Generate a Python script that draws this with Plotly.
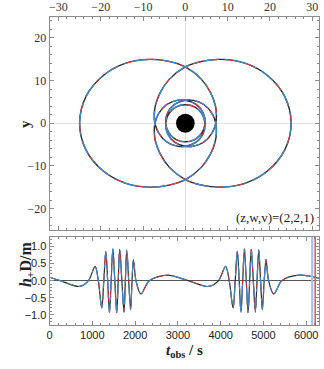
import math

import plotly.graph_objects as go


# orbit: radius vs angle swept from apoapsis, apoapsis -> periapsis
PSI_DEG = [0, 15, 30, 45, 61, 75, 90, 110, 130, 150, 165, 180, 200, 225, 250, 270, 300, 330, 360, 390, 420, 450]
R_ORBIT = [25.0, 24.3, 22.4, 19.9, 17.1, 15.0, 13.2, 11.0, 9.3, 8.2, 7.6, 7.2, 6.7, 6.2, 5.7, 5.4, 5.1, 4.85, 4.65, 4.5, 4.4, 4.35]
N_LEAVES = 2
HORIZON_R = 2.2
LABEL = "(z,w,v)=(2,2,1)"

# waveform h_+ D/m vs observer time
T_OBS = [0, 250, 700, 910, 1065, 1140, 1220, 1268, 1315, 1358, 1400, 1440, 1480, 1525, 1570, 1605,
         1640, 1690, 1740, 1772, 1805, 1850, 1895, 1928, 1960, 2020, 2135, 2330, 2750, 3240, 3720,
         3950, 4115, 4200, 4290, 4340, 4390, 4433, 4475, 4515, 4555, 4598, 4640, 4678, 4715, 4763,
         4810, 4850, 4890, 4933, 4975, 5018, 5060, 5120, 5240, 5430, 5830, 6300]
H_PLUS = [0.10, 0.0, -0.17, 0.0, 0.42, 0.0, -0.80, 0.0, 0.86, 0.0, -0.93, 0.0, 0.93, 0.0, -0.94, 0.0,
          0.92, 0.0, -0.92, 0.0, 0.90, 0.0, -0.85, 0.0, 0.62, 0.0, -0.39, 0.0, 0.16, 0.0, -0.17,
          0.0, 0.42, 0.0, -0.80, 0.0, 0.86, 0.0, -0.93, 0.0, 0.93, 0.0, -0.94, 0.0, 0.92, 0.0,
          -0.92, 0.0, 0.90, 0.0, -0.85, 0.0, 0.62, 0.0, -0.39, 0.0, 0.16, 0.07]
VLINE_T = [6140, 6210]

SERIF = "Liberation Serif"
SANS = "Liberation Sans"
BLACK = "#2a2a2a"
RED = "#e0393e"
BLUE = "#3d88c4"
FRAME = "#8c8c8c"


def build_orbit():
    # one radial period = apoapsis -> periapsis -> apoapsis (mirror of the table)
    half = len(PSI_DEG) - 1
    psi = list(PSI_DEG) + [2 * PSI_DEG[-1] - p for p in reversed(PSI_DEG[:half])]
    r = list(R_ORBIT) + list(reversed(R_ORBIT[:half]))
    period = 2 * PSI_DEG[-1]
    xs, ys = [], []
    for k in range(N_LEAVES):
        start = 0 if k == 0 else 1
        for p, rr in zip(psi[start:], r[start:]):
            phi = math.radians(180 - (p + k * period))
            xs.append(rr * math.cos(phi))
            ys.append(rr * math.sin(phi))
    return xs, ys


def main():
    ox, oy = build_orbit()
    fig = go.Figure()

    styles = [
        (BLACK, "solid", 1.4),
        (RED, "dash", 1.1),
        (BLUE, "longdashdot", 1.4),
    ]
    for color, dash, width in styles:
        fig.add_trace(go.Scatter(
            x=ox, y=oy, mode="lines", xaxis="x", yaxis="y",
            line=dict(color=color, dash=dash, width=width, shape="spline", smoothing=1.0),
            showlegend=False, hoverinfo="skip",
        ))
        fig.add_trace(go.Scatter(
            x=T_OBS, y=H_PLUS, mode="lines", xaxis="x2", yaxis="y2",
            line=dict(color=color, dash=dash, width=width - 0.2, shape="spline", smoothing=0.9),
            showlegend=False, hoverinfo="skip",
        ))

    # black hole
    fig.add_shape(type="circle", xref="x", yref="y",
                  x0=-HORIZON_R, x1=HORIZON_R, y0=-HORIZON_R, y1=HORIZON_R,
                  fillcolor="black", line=dict(color="black", width=0))

    for t, c, w in zip(VLINE_T, ["#9cc7e6", "#e25a5a"], [2.2, 1.6]):
        fig.add_shape(type="line", xref="x2", yref="y2 domain", x0=t, x1=t, y0=0, y1=1,
                      line=dict(color=c, width=w))

    tick_common = dict(
        ticks="inside", ticklen=4, tickwidth=1, tickcolor=FRAME,
        showline=True, linecolor=FRAME, linewidth=1, mirror="allticks",
        showgrid=False,
    )
    minor_common = dict(ticks="inside", ticklen=2, tickcolor=FRAME, showgrid=False)

    fig.update_layout(
        width=324, height=369,
        margin=dict(l=0, r=0, t=0, b=0),
        paper_bgcolor="white", plot_bgcolor="white",
        xaxis=dict(
            domain=[47 / 324, 319 / 324], anchor="y", side="top",
            range=[-32.1, 31.6], dtick=10, minor=dict(dtick=2, **minor_common),
            tickfont=dict(family=SERIF, size=12, color="#333"),
            zeroline=True, zerolinecolor="#e2e2e2", zerolinewidth=1,
            **tick_common,
        ),
        yaxis=dict(
            domain=[1 - 230 / 369, 1 - 16.5 / 369], anchor="x",
            range=[-25, 25], dtick=10, minor=dict(dtick=2, **minor_common),
            tickfont=dict(family=SERIF, size=12, color="#333"),
            zeroline=True, zerolinecolor="#e2e2e2", zerolinewidth=1,
            **tick_common,
        ),
        xaxis2=dict(
            domain=[47 / 324, 319 / 324], anchor="y2",
            range=[0, 6300], dtick=1000, minor=dict(dtick=200, **minor_common),
            tickfont=dict(family=SANS, size=11, color="#222"),
            zeroline=False,
            **tick_common,
        ),
        yaxis2=dict(
            domain=[1 - 325 / 369, 1 - 237 / 369], anchor="x2",
            range=[-1.3, 1.28], dtick=0.5, minor=dict(dtick=0.1, **minor_common),
            tickformat=".1f",
            tickfont=dict(family=SANS, size=11, color="#222"),
            zeroline=True, zerolinecolor="#555", zerolinewidth=1,
            **tick_common,
        ),
        annotations=[
            dict(text=LABEL, xref="x domain", yref="y domain", x=0.99, y=0.015,
                 xanchor="right", yanchor="bottom", showarrow=False,
                 font=dict(family=SERIF, size=13, color="#222")),
            dict(text="<b>y</b>", xref="paper", yref="paper", x=12 / 324, y=1 - 124 / 369,
                 textangle=-90, showarrow=False,
                 font=dict(family=SERIF, size=15, color="#222")),
            dict(text="<b><i>h</i><sub>+</sub>D/m</b>", xref="paper", yref="paper",
                 x=12 / 324, y=1 - 289 / 369, textangle=-90, showarrow=False,
                 font=dict(family=SERIF, size=16, color="#222")),
            dict(text="<b><i>t</i><sub>obs</sub> / s</b>", xref="paper", yref="paper",
                 x=183 / 324, y=1 - 362 / 369, showarrow=False,
                 font=dict(family=SERIF, size=15, color="#222")),
        ],
    )

    fig.write_html("out.html", config={"displayModeBar": False},
                   post_script="document.body.style.margin='0px';")


if __name__ == "__main__":
    main()
